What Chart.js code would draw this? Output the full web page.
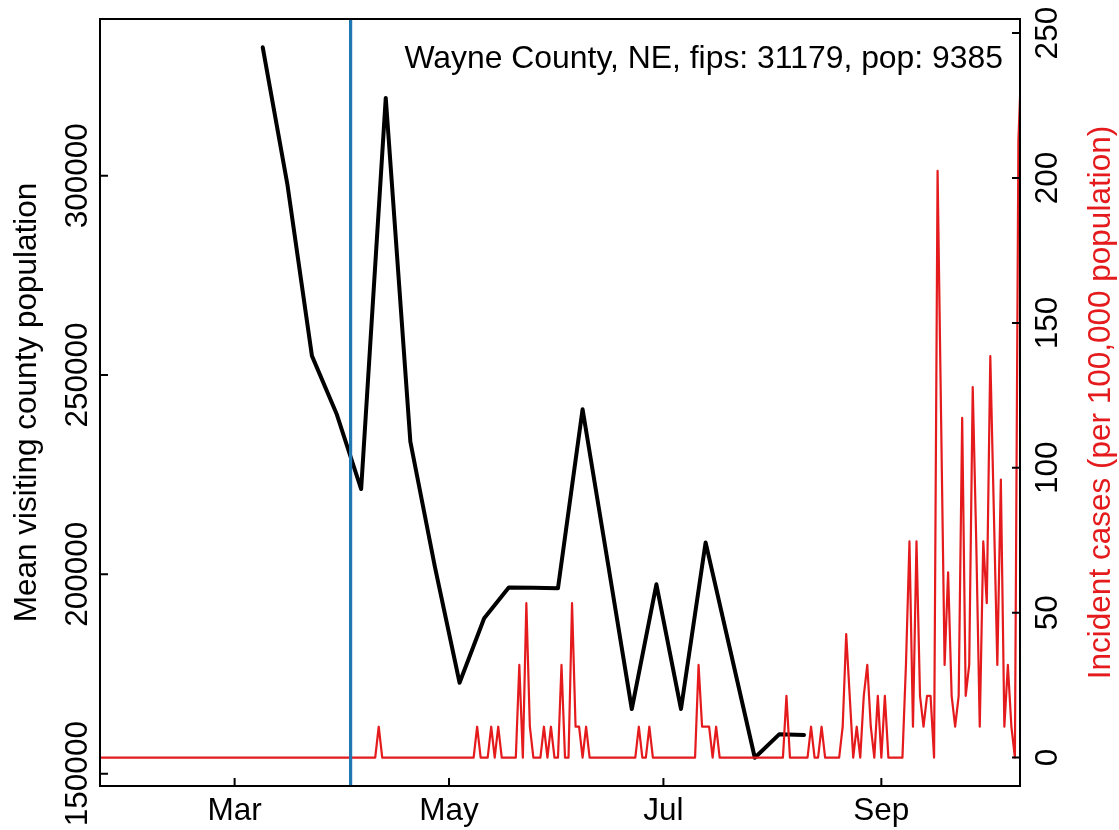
<!DOCTYPE html>
<html>
<head>
<meta charset="utf-8">
<script src="https://cdn.jsdelivr.net/npm/chart.js@4.4.1/dist/chart.umd.min.js"></script>
<style>
html, body { margin: 0; padding: 0; background: #fff; }
</style>
</head>
<body>
<canvas id="chart" width="1119" height="830"></canvas>
<script>
// days are counted from 1 Mar 2020
const firstCaseDay = -39; // 22 Jan
const countyPop = 9385;

// daily new cases, one array per month
const casesJan = [0,0,0,0,0,0,0,0,0,0]; // from 22 Jan
const casesFeb = [0,0,0,0,0,0,0,0,0,0, 0,0,0,0,0,0,0,0,0,0, 0,0,0,0,0,0,0,0,0];
const casesMar = [0,0,0,0,0,0,0,0,0,0, 0,0,0,0,0,0,0,0,0,0, 0,0,0,0,0,0,0,0,0,0, 0];
const casesApr = [0,0,0,0,0,0,0,0,0,0, 1,0,0,0,0,0,0,0,0,0, 0,0,0,0,0,0,0,0,0,0];
const casesMay = [0,0,0,0,0,0,0,0,1,0, 0,0,1,0,1,0,0,0,0,0, 3,0,5,1,0,0,0,1,0,1, 0];
const casesJun = [0,3,0,0,5,1,1,0,1,0, 0,0,0,0,0,0,0,0,0,0, 0,0,0,1,0,0,1,0,0,0];
const casesJul = [0,0,0,0,0,0,0,0,0,0, 3,1,1,1,0,1,0,0,0,0, 0,0,0,0,0,0,0,0,0,0, 0];
const casesAug = [0,0,0,0,2,0,0,0,0,0, 0,1,0,0,1,0,0,0,0,0, 1,4,2,0,1,0,2,3,1,0, 2];
const casesSep = [0,2,0,0,0,0,0,3,7,1, 7,2,1,2,2,0,19,11,3,6, 2,1,2,11,2,3,12,7,1,7];
const casesOct = [5,13,8,3,9,1,3,1,0,20,23]; // to 11 Oct

// weekly mean visiting population
const visitDays = [8,15,22,29,36,43,50,57,64,71,78,85,92,99,106,113,120,127,134,141,148,155,162];
const visitPop = [332200,297900,254800,240300,221400,319500,233300,201800,172800,189000,196700,196600,
                  196500,241400,203900,166200,197500,166200,208000,181000,154000,159900,159700];

const interventionDay = 33; // 3 Apr

const monthTickDays = [0, 61, 122, 184];
const monthTickLabels = ['Mar', 'May', 'Jul', 'Sep'];
const leftTicks = [150000, 200000, 250000, 300000];
const rightTicks = [0, 50, 100, 150, 200, 250];

const titleText = 'Wayne County, NE, fips: 31179, pop: 9385';
const leftTitle = 'Mean visiting county population';
const rightTitle = 'Incident cases (per 100,000 population)';

const dailyCases = [].concat(casesJan, casesFeb, casesMar, casesApr, casesMay, casesJun,
                             casesJul, casesAug, casesSep, casesOct);
const casePoints = dailyCases.map((c, i) => ({ x: firstCaseDay + i, y: c / countyPop * 100000 }));
const visitPoints = visitDays.map((d, i) => ({ x: d, y: visitPop[i] }));

const FONT = '31.5px "Liberation Sans", Arial, Helvetica, sans-serif';
const TITLE_FONT = '31.9px "Liberation Sans", Arial, Helvetica, sans-serif';

const rAxes = {
    id: 'rAxes',
    afterDatasetsDraw(chart) {
        const { ctx, chartArea: a, scales } = chart;
        const x = scales.x.getPixelForValue(interventionDay);
        ctx.save();
        ctx.strokeStyle = '#1f78b4';
        ctx.lineWidth = 3.2;
        ctx.beginPath();
        ctx.moveTo(x, a.top);
        ctx.lineTo(x, a.bottom);
        ctx.stroke();
        ctx.restore();
    },
    afterDraw(chart) {
        const { ctx, chartArea: a, scales } = chart;
        ctx.save();
        ctx.strokeStyle = '#000';
        ctx.lineWidth = 2;
        ctx.strokeRect(a.left, a.top, a.right - a.left, a.bottom - a.top);

        // ticks (pointing inwards)
        ctx.beginPath();
        monthTickDays.forEach(d => {
            const x = scales.x.getPixelForValue(d);
            ctx.moveTo(x, a.bottom); ctx.lineTo(x, a.bottom - 8);
        });
        leftTicks.forEach(v => {
            const y = scales.yL.getPixelForValue(v);
            ctx.moveTo(a.left, y); ctx.lineTo(a.left + 8, y);
        });
        rightTicks.forEach(v => {
            const y = scales.yR.getPixelForValue(v);
            ctx.moveTo(a.right, y); ctx.lineTo(a.right - 8, y);
        });
        ctx.stroke();

        ctx.font = FONT;
        ctx.fillStyle = '#000';
        ctx.textAlign = 'center';
        ctx.textBaseline = 'alphabetic';
        monthTickDays.forEach((d, i) => {
            ctx.fillText(monthTickLabels[i], scales.x.getPixelForValue(d), 820);
        });

        const vtext = (txt, x, y, color) => {
            ctx.save();
            ctx.translate(x, y);
            ctx.rotate(-Math.PI / 2);
            ctx.fillStyle = color;
            ctx.fillText(txt, 0, 0);
            ctx.restore();
        };
        leftTicks.forEach(v => vtext(String(v), a.left - 13, scales.yL.getPixelForValue(v), '#000'));
        rightTicks.forEach(v => vtext(String(v), a.right + 37, scales.yR.getPixelForValue(v), '#000'));

        const midY = (a.top + a.bottom) / 2;
        vtext(leftTitle, 36, midY, '#000');
        vtext(rightTitle, 1110, midY, '#e41a1c');

        ctx.font = TITLE_FONT;
        ctx.textAlign = 'right';
        ctx.fillText(titleText, 1003, 68);
        ctx.restore();
    }
};

new Chart(document.getElementById('chart'), {
    type: 'line',
    data: {
        datasets: [{
            label: 'Mean visiting county population',
            data: visitPoints,
            yAxisID: 'yL',
            borderColor: '#000',
            borderWidth: 4,
            pointRadius: 0,
            borderJoinStyle: 'round',
            borderCapStyle: 'round',
            clip: 0,
            order: 2
        }, {
            label: 'Incident cases',
            data: casePoints,
            yAxisID: 'yR',
            borderColor: '#e41a1c',
            borderWidth: 2.2,
            pointRadius: 0,
            borderJoinStyle: 'round',
            clip: 0,
            order: 1
        }]
    },
    options: {
        responsive: false,
        animation: false,
        devicePixelRatio: 1,
        layout: { padding: { top: 19, left: 0, right: 0, bottom: 0 } },
        plugins: { legend: { display: false }, tooltip: { enabled: false } },
        scales: {
            x: {
                type: 'linear', position: 'bottom', min: -38.3, max: 223.45,
                grid: { display: false }, border: { display: false }, ticks: { display: false },
                afterFit: s => { s.height = 44; }
            },
            yL: {
                type: 'linear', position: 'left', min: 146900, max: 339300,
                grid: { display: false }, border: { display: false }, ticks: { display: false },
                afterFit: s => { s.width = 100; }
            },
            yR: {
                type: 'linear', position: 'right', min: -9.8, max: 254.87,
                grid: { display: false }, border: { display: false }, ticks: { display: false },
                afterFit: s => { s.width = 99; }
            }
        }
    },
    plugins: [rAxes]
});
</script>
</body>
</html>
